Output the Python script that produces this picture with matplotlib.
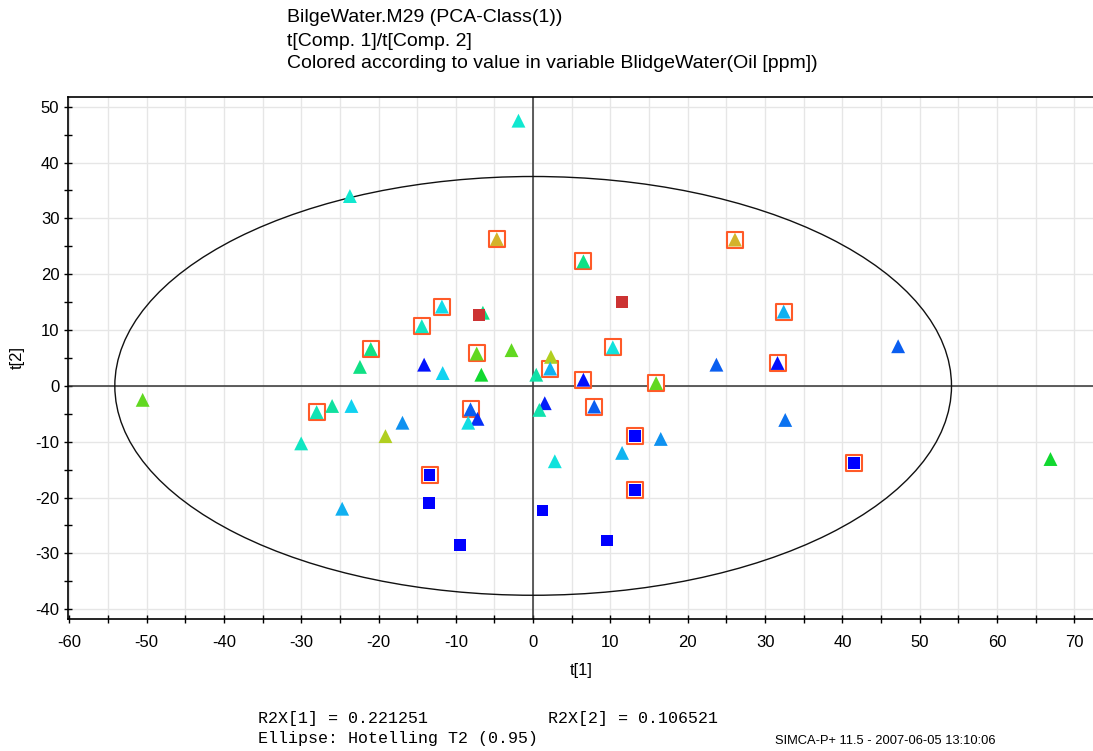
import numpy as np
import matplotlib
matplotlib.use("Agg")
import matplotlib.pyplot as plt
from matplotlib.colors import LinearSegmentedColormap
from matplotlib.patches import Ellipse
from matplotlib.ticker import MultipleLocator

plt.rcParams["font.family"] = ["Liberation Sans", "DejaVu Sans"]
plt.rcParams["axes.unicode_minus"] = False

# scores t[1], t[2] and scaled oil value (0 = low, 1 = high)
tri_t1 = [-1.9, -23.7, -4.7, 6.5, 26.1, -11.8, -6.5, -14.4, 32.4, -21.0,
          -22.4, -14.1, -11.7, -7.3, -6.7, -2.8, 0.4, 2.3, 2.2, 6.5,
          10.3, 15.9, 23.7, 31.6, 47.2, -50.5, -28.0, -26.0, -23.5, -30.0,
          -19.1, -16.9, -8.1, -7.2, -8.4, 1.5, 0.8, 7.9, 32.6, 16.5,
          11.5, 2.8, 66.9, -24.7]
tri_t2 = [47.5, 34.0, 26.3, 22.3, 26.2, 14.2, 13.1, 10.7, 13.3, 6.6,
          3.4, 3.8, 2.3, 5.8, 2.0, 6.4, 2.0, 5.2, 3.1, 1.1,
          6.9, 0.5, 3.8, 4.1, 7.1, -2.5, -4.7, -3.6, -3.6, -10.3,
          -9.0, -6.6, -4.2, -5.9, -6.6, -3.1, -4.3, -3.7, -6.1, -9.5,
          -12.0, -13.5, -13.1, -22.0]
tri_oil = [0.38, 0.38, 0.85, 0.48, 0.85, 0.34, 0.48, 0.40, 0.25, 0.48,
           0.48, 0.02, 0.32, 0.65, 0.56, 0.65, 0.44, 0.75, 0.25, 0.02,
           0.36, 0.65, 0.12, 0.02, 0.12, 0.65, 0.42, 0.45, 0.32, 0.40,
           0.75, 0.20, 0.12, 0.06, 0.35, 0.04, 0.43, 0.12, 0.15, 0.20,
           0.26, 0.36, 0.56, 0.25]
tri_marked = [0, 0, 1, 1, 1, 1, 0, 1, 1, 1,
              0, 0, 0, 1, 0, 0, 0, 0, 1, 1,
              1, 1, 0, 1, 0, 0, 1, 0, 0, 0,
              0, 0, 1, 0, 0, 0, 0, 1, 0, 0,
              0, 0, 0, 0]

sq_t1 = [-7.0, 11.5, 13.2, 41.5, 13.2, 1.2, 9.5, -13.4, -13.5, -9.5]
sq_t2 = [12.7, 15.0, -9.0, -13.8, -18.7, -22.3, -27.7, -16.0, -21.0, -28.5]
sq_oil = [1.0, 1.0, 0.0, 0.0, 0.0, 0.0, 0.0, 0.0, 0.0, 0.0]
sq_marked = [0, 0, 1, 1, 1, 0, 0, 1, 0, 0]

# Hotelling T2 (0.95) ellipse half axes
ell_a = 54.1
ell_b = 37.5

cmap = LinearSegmentedColormap.from_list("simca", [
    (0.0, "#0000ff"), (0.12, "#0a60f0"), (0.25, "#10b0f0"), (0.33, "#10d8f0"),
    (0.38, "#10e8d0"), (0.45, "#10e0a0"), (0.5, "#10e070"), (0.56, "#10d830"),
    (0.65, "#60d820"), (0.75, "#b0d020"), (0.85, "#d4b42a"), (1.0, "#cc3333")])

fig = plt.figure(figsize=(10.93, 7.51), dpi=100)
ax = fig.add_axes([0.0619, 0.1754, 0.9381, 0.6959])

ax.set_xlim(-60.2, 72.4)
ax.set_ylim(-41.8, 51.8)
ax.xaxis.set_major_locator(MultipleLocator(10))
ax.xaxis.set_minor_locator(MultipleLocator(5))
ax.yaxis.set_major_locator(MultipleLocator(10))
ax.yaxis.set_minor_locator(MultipleLocator(5))
ax.grid(True, which="both", axis="x", color="#e6e6e6", lw=1)
ax.grid(True, which="major", axis="y", color="#e6e6e6", lw=1)
ax.set_axisbelow(True)
ax.tick_params(which="both", direction="inout", length=6, width=1, labelsize=12)
ax.tick_params(axis="x", pad=8)
ax.tick_params(axis="y", pad=3)
ax.spines["right"].set_visible(False)
for s in ["left", "bottom", "top"]:
    ax.spines[s].set_linewidth(1.2)

ax.axhline(0, color="#333333", lw=1.1, zorder=1)
ax.axvline(0, color="#333333", lw=1.1, zorder=1)
ax.add_patch(Ellipse((0, 0), 2 * ell_a, 2 * ell_b, fill=False, ec="#111111", lw=1, zorder=2))

tx = np.array(tri_t1)
ty = np.array(tri_t2)
tm = np.array(tri_marked, dtype=bool)
sx = np.array(sq_t1)
sy = np.array(sq_t2)
sm = np.array(sq_marked, dtype=bool)

box_x = np.concatenate([tx[tm], sx[sm]])
box_y = np.concatenate([ty[tm], sy[sm]])
ax.scatter(box_x, box_y, marker="s", s=125, facecolors="white", edgecolors="#ff5a28", linewidths=1.5, zorder=3)

ax.scatter(tx, ty, c=tri_oil, cmap=cmap, vmin=0, vmax=1, marker="^", s=100, linewidths=0, zorder=4)
ax.scatter(sx, sy, c=sq_oil, cmap=cmap, vmin=0, vmax=1, marker="s", s=72, linewidths=0, zorder=5)

fig.text(581 / 1093, 1 - 671 / 751, "t[1]", ha="center", va="center", fontsize=12)
fig.text(17 / 1093, 1 - 358 / 751, "t[2]", ha="center", va="center", fontsize=12, rotation=90)

title_lines = ["BilgeWater.M29 (PCA-Class(1))",
               "t[Comp. 1]/t[Comp. 2]",
               "Colored according to value in variable BlidgeWater(Oil [ppm])"]
for i, line in enumerate(title_lines):
    fig.text(287 / 1093, 1 - (18 + 23 * i) / 751, line, ha="left", va="center", fontsize=14)

mono = ["Liberation Mono", "DejaVu Sans Mono"]
fig.text(258 / 1093, 1 - 718 / 751, "R2X[1] = 0.221251", family=mono, fontsize=12, va="center")
fig.text(548 / 1093, 1 - 718 / 751, "R2X[2] = 0.106521", family=mono, fontsize=12, va="center")
fig.text(258 / 1093, 1 - 738 / 751, "Ellipse: Hotelling T2 (0.95)", family=mono, fontsize=12, va="center")
fig.text(775 / 1093, 1 - 741 / 751, "SIMCA-P+ 11.5 - 2007-06-05 13:10:06", fontsize=9.3, va="center")

fig.savefig("out.png", dpi=100)
